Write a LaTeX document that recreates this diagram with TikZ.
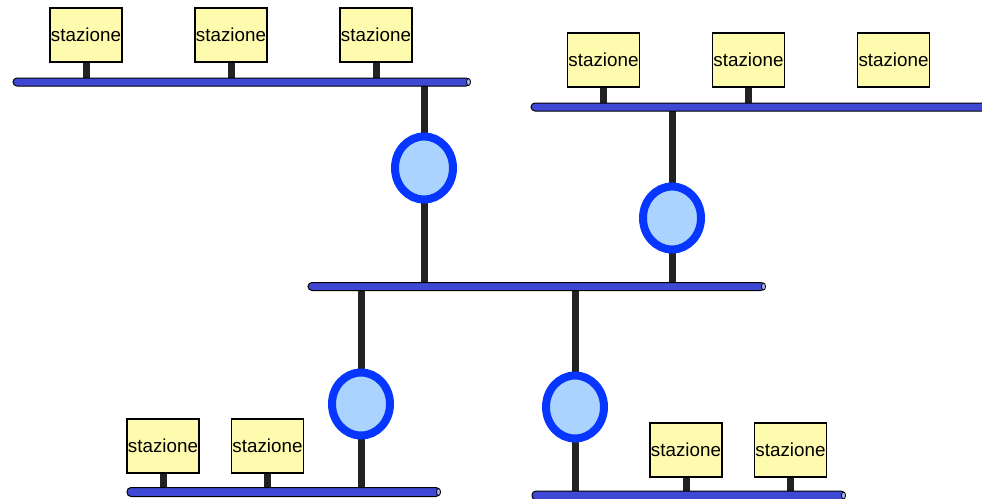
\documentclass[tikz,border=0pt]{standalone}
\usepackage{fontspec}
\setmainfont{Liberation Sans}
\usetikzlibrary{shapes.geometric, backgrounds}
\definecolor{lanblue}{HTML}{3F48D4}
\definecolor{capblue}{HTML}{A9B4F0}
\definecolor{boxfill}{HTML}{FFFBAE}
\definecolor{repfill}{HTML}{AAD4FF}
\definecolor{repline}{HTML}{0636FF}
\definecolor{wire}{HTML}{222222}

\begin{document}
\begin{tikzpicture}[
  x=1pt, y=-1pt,
  font=\fontsize{18.8}{20}\selectfont,
  station/.style={draw=black, line width=1.5pt, fill=boxfill, minimum width=72pt,
                  minimum height=54pt, inner sep=0pt},
  bus/.style={draw=black, line width=1pt, fill=lanblue, rounded corners=4pt,
              minimum height=8pt, inner sep=0pt},
  buscap/.style={ellipse, draw=black, line width=0.8pt, fill=capblue,
                 minimum width=4pt, minimum height=7pt, inner sep=0pt},
  repeater/.style={ellipse, draw=repline, line width=8pt, fill=repfill,
                   minimum width=58pt, minimum height=63pt, inner sep=0pt},
  stem/.style={draw=wire, line width=7pt},
  link/.style={draw=wire, line width=7pt}
]
\clip (0,0) rectangle (982,498);

% segmenti
\node[bus, minimum width=457pt] (lanA) at (241.5,82) {};
\node[bus, minimum width=470pt] (lanB) at (766,107) {};
\node[bus, minimum width=457pt] (lanC) at (536.5,286.5) {};
\node[bus, minimum width=313pt, minimum height=9pt] (lanD) at (283.5,492) {};
\node[bus, minimum width=313pt, minimum height=9pt] (lanE) at (688.5,495.5) {};
\node[buscap] at ([xshift=-2pt]lanA.east) {};
\node[buscap] at ([xshift=-2pt]lanC.east) {};
\node[buscap] at ([xshift=-2pt]lanD.east) {};
\node[buscap] at ([xshift=-2pt]lanE.east) {};

% stazioni
\node[station] (a1) at (86,35) {stazione};
\node[station] (a2) at (231,35) {stazione};
\node[station] (a3) at (376,35) {stazione};
\node[station] (b1) at (603.5,60) {stazione};
\node[station] (b2) at (748.5,60) {stazione};
\node[station] (b3) at (893.5,60) {stazione};
\node[station] (d1) at (163,446) {stazione};
\node[station] (d2) at (267.5,446) {stazione};
\node[station] (e1) at (686,450) {stazione};
\node[station] (e2) at (790.5,450) {stazione};

% ripetitori
\node[repeater] (r1) at (424,168) {};
\node[repeater] (r2) at (672,218) {};
\node[repeater] (r3) at (361,404) {};
\node[repeater] (r4) at (575,407) {};

\begin{scope}[on background layer]
\foreach \s/\l in {a1/lanA, a2/lanA, a3/lanA, b1/lanB, b2/lanB, d1/lanD, d2/lanD, e1/lanE, e2/lanE}
  \draw[stem] (\s.south) -- (\s |- \l.center);
\draw[link] (r1 |- lanA.center) -- (r1 |- lanC.center);
\draw[link] (r2 |- lanB.center) -- (r2 |- lanC.center);
\draw[link] (r3 |- lanC.center) -- (r3 |- lanD.center);
\draw[link] (r4 |- lanC.center) -- (r4 |- lanE.center);
\end{scope}
\end{tikzpicture}
\end{document}
